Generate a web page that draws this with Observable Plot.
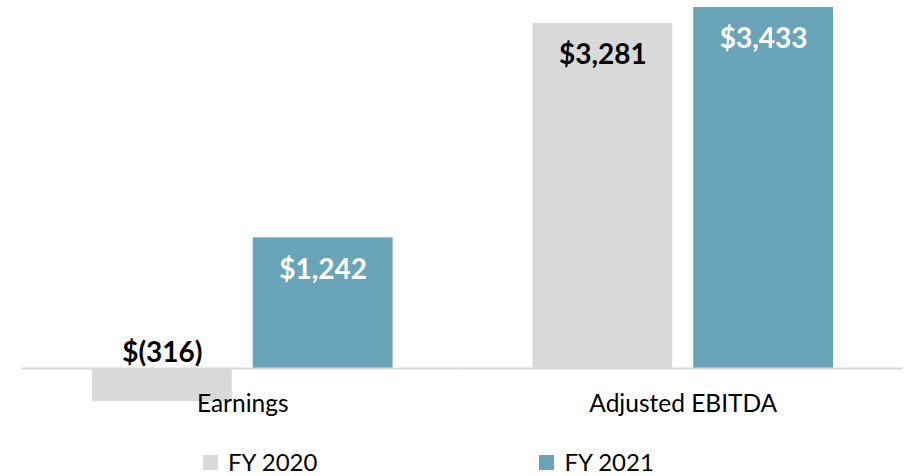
<!DOCTYPE html>
<html>
<head>
<meta charset="utf-8">
<script src="https://cdn.jsdelivr.net/npm/d3@7"></script>
<script src="https://cdn.jsdelivr.net/npm/@observablehq/plot@0.6"></script>
<style>
  body { margin: 0; background: #fff; font-family: Lato, "Open Sans", sans-serif; }
  #chart { width: 909px; height: 476px; position: relative; overflow: hidden; }
  .legend { position: absolute; top: 450px; left: 203px; display: flex; align-items: center; font-size: 24px; line-height: 24px; color: #000; }
  .item { display: flex; align-items: center; }
  .sw { width: 15px; height: 15px; margin-right: 10px; }
</style>
</head>
<body>
<div id="chart"></div>
<script>
const categories = ["Earnings", "Adjusted EBITDA"];
const seriesNames = ["FY 2020", "FY 2021"];
const fy2020 = [-316, 3281];
const fy2021 = [1242, 3433];
const colors = ["#d9d9d9", "#6aa4b8"];
const labelColors = ["#000000", "#ffffff"];

const data = [];
categories.forEach((c, i) => {
  data.push({category: c, series: seriesNames[0], value: fy2020[i]});
  data.push({category: c, series: seriesNames[1], value: fy2021[i]});
});
const fmt = v => v < 0 ? `$(${d3.format(",")(-v)})` : `$${d3.format(",")(v)}`;

const W = 909, H = 430;
const plot = Plot.plot({
  width: W,
  height: H,
  marginTop: 7,
  marginBottom: 28.8,
  marginLeft: 22,
  marginRight: 6,
  style: {fontFamily: "Lato, 'Open Sans', sans-serif", background: "transparent"},
  fx: {domain: categories, padding: 0, axis: null, round: false},
  x: {domain: seriesNames, paddingInner: 0.1304, paddingOuter: 0.4348, axis: null, round: false},
  y: {domain: [-316, 3433], axis: null},
  color: {domain: seriesNames, range: colors},
  marks: [
    Plot.barY(data, {fx: "category", x: "series", y: "value", fill: "series"}),
    Plot.ruleY([0], {stroke: "#d9d9d9", strokeWidth: 2}),
    ...seriesNames.map((s, si) => Plot.text(data.filter(d => d.series === s && d.value > 0), {
      fx: "category", x: "series", y: "value", text: d => fmt(d.value),
      dy: 32, fill: labelColors[si], fontSize: 28, fontWeight: "bold", lineAnchor: "middle"
    })),
    ...seriesNames.map((s) => Plot.text(data.filter(d => d.series === s && d.value < 0), {
      fx: "category", x: "series", y: 0, text: d => fmt(d.value),
      dy: -15, fill: "#000", fontSize: 28, fontWeight: "bold", lineAnchor: "middle"
    })),
    Plot.text(categories, {fx: d => d, text: d => d, frameAnchor: "bottom", dy: 2, lineAnchor: "middle", fontSize: 24.5, fill: "#000"})
  ]
});
const chart = document.getElementById("chart");
chart.appendChild(plot);

const legend = document.createElement("div");
legend.className = "legend";
seriesNames.forEach((s, i) => {
  const item = document.createElement("div");
  item.className = "item";
  if (i > 0) item.style.marginLeft = "222px";
  const sw = document.createElement("span");
  sw.className = "sw";
  sw.style.background = colors[i];
  const t = document.createElement("span");
  t.textContent = s;
  item.appendChild(sw);
  item.appendChild(t);
  legend.appendChild(item);
});
chart.appendChild(legend);
</script>
</body>
</html>
